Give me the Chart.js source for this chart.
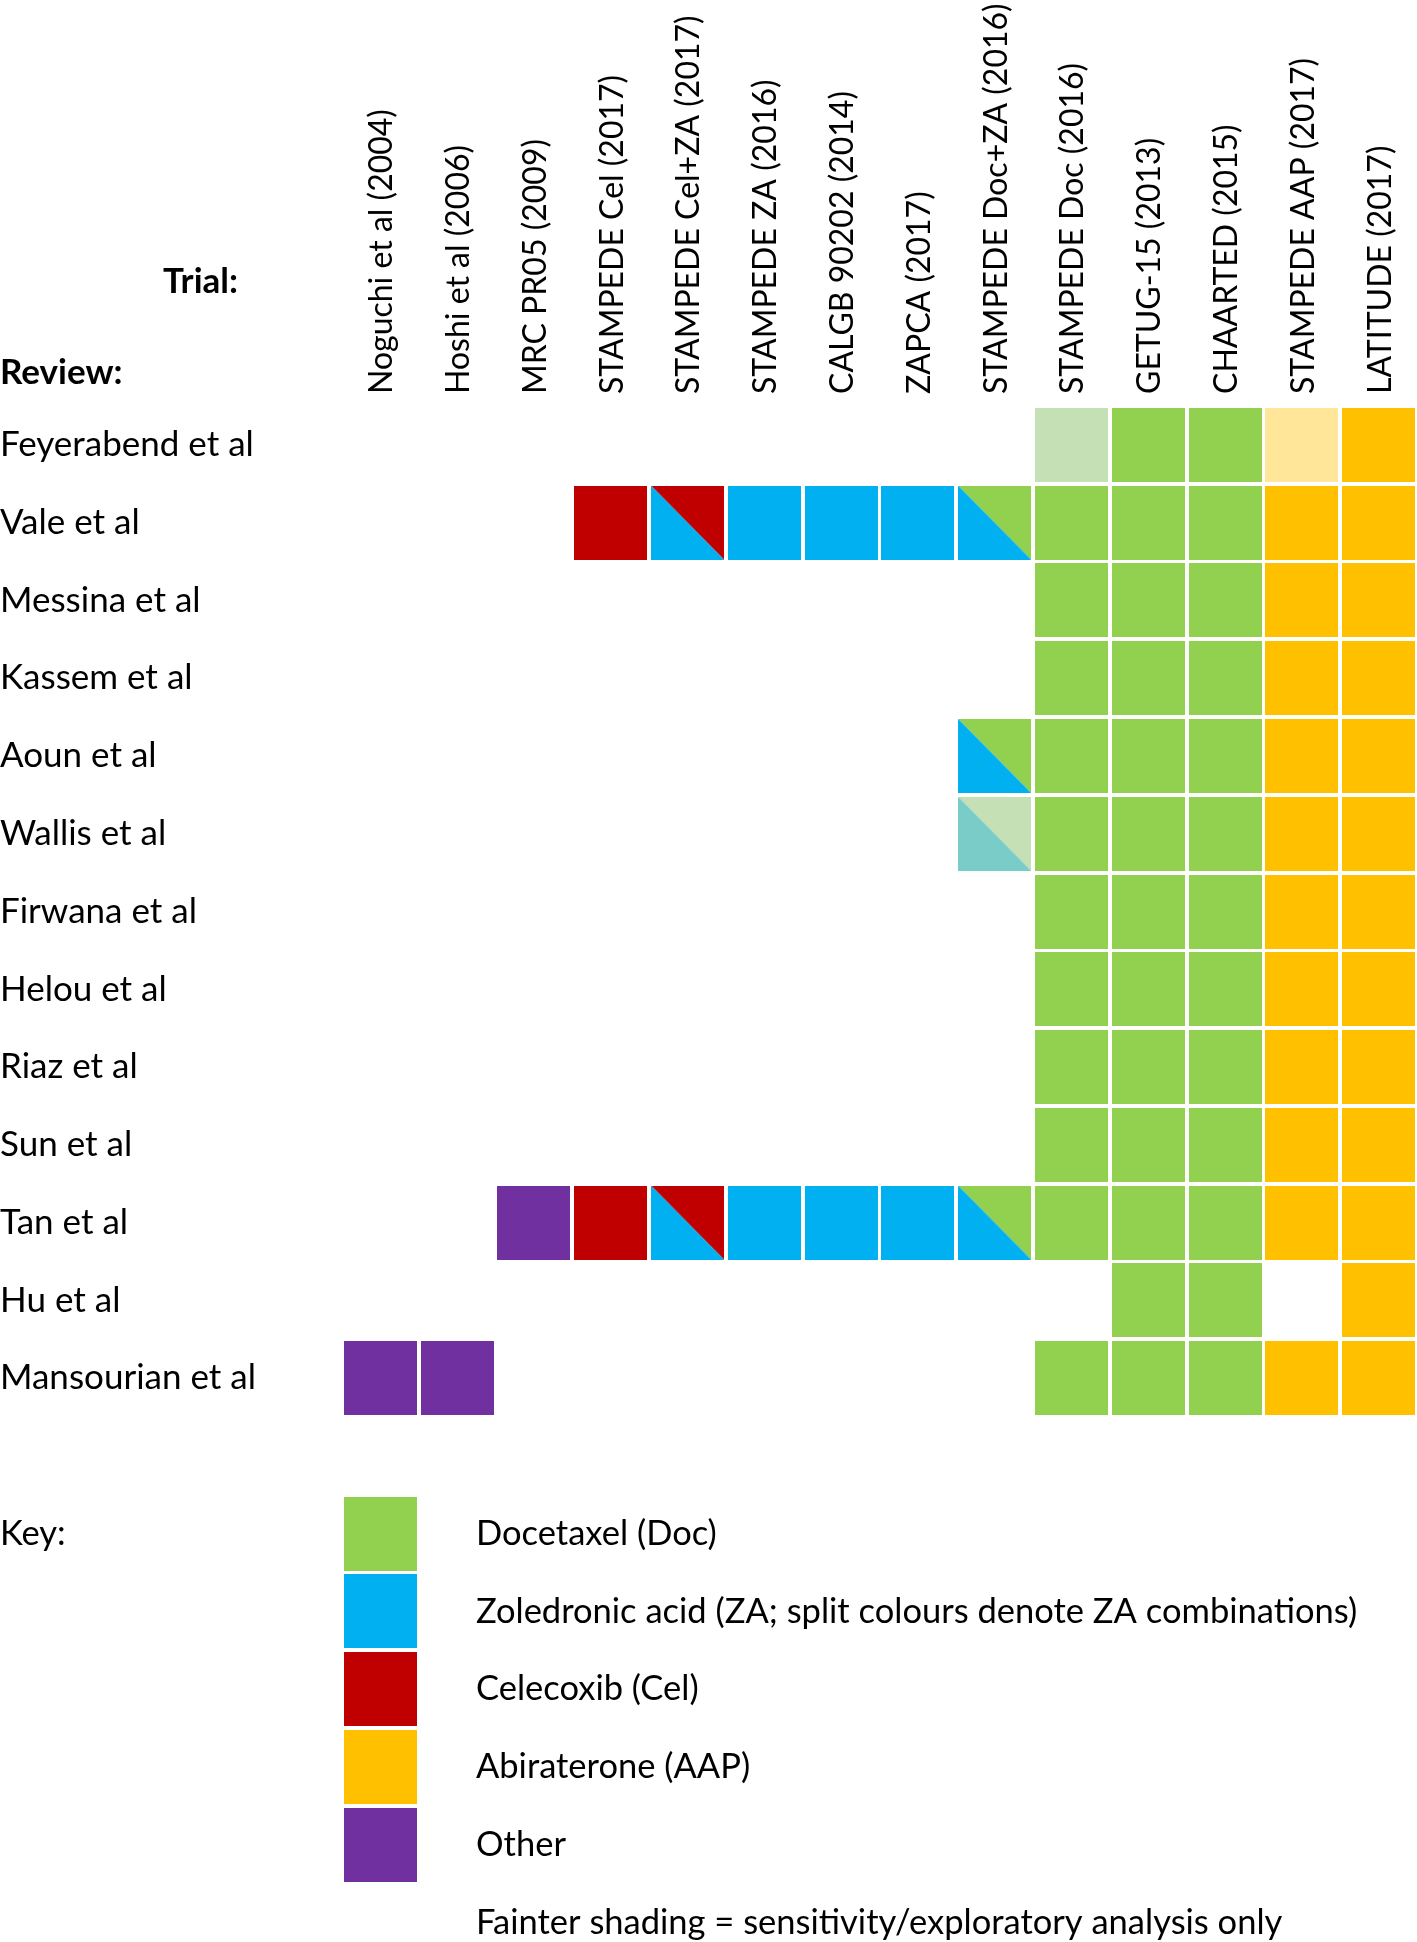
<!DOCTYPE html>
<html>
<head>
<meta charset="utf-8">
<script src="https://cdn.jsdelivr.net/npm/chart.js@4.4.1/dist/chart.umd.min.js"></script>
<style>
  html, body { margin: 0; padding: 0; background: #ffffff; }
  #wrap { width: 1417px; height: 1942px; }
</style>
</head>
<body>
<div id="wrap"><canvas id="myChart" width="1417" height="1942"></canvas></div>
<script>
const trials = [
  "Noguchi et al (2004)",
  "Hoshi et al (2006)",
  "MRC PR05 (2009)",
  "STAMPEDE Cel (2017)",
  "STAMPEDE Cel+ZA (2017)",
  "STAMPEDE ZA (2016)",
  "CALGB 90202 (2014)",
  "ZAPCA (2017)",
  "STAMPEDE Doc+ZA (2016)",
  "STAMPEDE Doc (2016)",
  "GETUG-15 (2013)",
  "CHAARTED (2015)",
  "STAMPEDE AAP (2017)",
  "LATITUDE (2017)",
];

const reviews = [
  "Feyerabend et al",
  "Vale et al",
  "Messina et al",
  "Kassem et al",
  "Aoun et al",
  "Wallis et al",
  "Firwana et al",
  "Helou et al",
  "Riaz et al",
  "Sun et al",
  "Tan et al",
  "Hu et al",
  "Mansourian et al",
];

// D = Doc, Z = ZA, C = Cel, A = AAP, O = other, lower case = fainter shading,
// two letters = split cell (upper-right, lower-left)
const cells = [
  ["", "", "", "", "", "", "", "", "", "d", "D", "D", "a", "A"],
  ["", "", "", "C", "CZ", "Z", "Z", "Z", "DZ", "D", "D", "D", "A", "A"],
  ["", "", "", "", "", "", "", "", "", "D", "D", "D", "A", "A"],
  ["", "", "", "", "", "", "", "", "", "D", "D", "D", "A", "A"],
  ["", "", "", "", "", "", "", "", "DZ", "D", "D", "D", "A", "A"],
  ["", "", "", "", "", "", "", "", "dz", "D", "D", "D", "A", "A"],
  ["", "", "", "", "", "", "", "", "", "D", "D", "D", "A", "A"],
  ["", "", "", "", "", "", "", "", "", "D", "D", "D", "A", "A"],
  ["", "", "", "", "", "", "", "", "", "D", "D", "D", "A", "A"],
  ["", "", "", "", "", "", "", "", "", "D", "D", "D", "A", "A"],
  ["", "", "O", "C", "CZ", "Z", "Z", "Z", "DZ", "D", "D", "D", "A", "A"],
  ["", "", "", "", "", "", "", "", "", "", "D", "D", "", "A"],
  ["O", "O", "", "", "", "", "", "", "", "D", "D", "D", "A", "A"],
];

const keyCodes = ["D", "Z", "C", "A", "O"];
const keyLabels = [
  "Docetaxel (Doc)",
  "Zoledronic acid (ZA; split colours denote ZA combinations)",
  "Celecoxib (Cel)",
  "Abiraterone (AAP)",
  "Other",
];
const faintNote = "Fainter shading = sensitivity/exploratory analysis only";

const colours = {
  D: "#92D050",
  Z: "#00B0F0",
  C: "#C00000",
  A: "#FFC000",
  O: "#7030A0",
  d: "#C5E0B4",
  a: "#FFE699",
  z: "#7ACCC8",
};

const CELL_W = 73;
const CELL_H = 74;
const FONT = "Lato, 'Open Sans', sans-serif";

function makeCell(code) {
  const c = document.createElement("canvas");
  c.width = CELL_W;
  c.height = CELL_H;
  const g = c.getContext("2d");
  if (code.length === 1) {
    g.fillStyle = colours[code];
    g.fillRect(0, 0, CELL_W, CELL_H);
  } else {
    g.fillStyle = colours[code[0]];
    g.beginPath();
    g.moveTo(0, 0);
    g.lineTo(CELL_W, 0);
    g.lineTo(CELL_W, CELL_H);
    g.closePath();
    g.fill();
    g.fillStyle = colours[code[1]];
    g.beginPath();
    g.moveTo(0, 0);
    g.lineTo(0, CELL_H);
    g.lineTo(CELL_W, CELL_H);
    g.closePath();
    g.fill();
  }
  return c;
}

const cellImages = {};
const points = [];
cells.forEach((row, r) => {
  row.forEach((code, t) => {
    if (!code) return;
    if (!cellImages[code]) cellImages[code] = makeCell(code);
    points.push({ x: trials[t], y: reviews[r], code: code });
  });
});
keyCodes.forEach((code) => {
  if (!cellImages[code]) cellImages[code] = makeCell(code);
});

const extraText = {
  id: "extraText",
  afterDraw(chart) {
    const ctx = chart.ctx;
    const xs = chart.scales.x;
    const ys = chart.scales.y;
    ctx.save();
    ctx.fillStyle = "#000000";
    ctx.textBaseline = "middle";

    ctx.font = "bold 35px " + FONT;
    ctx.textAlign = "right";
    ctx.fillText("Trial:", 238, 282);
    ctx.textAlign = "left";
    ctx.fillText("Review:", 0, 373);

    // key sits in the grid rows below the reviews
    const first = reviews.length + 1;
    const x0 = xs.getPixelForValue(0);
    ctx.font = "34.5px " + FONT;
    ctx.fillText("Key:", 0, ys.getPixelForValue(first));
    keyCodes.forEach((code, i) => {
      const yc = ys.getPixelForValue(first + i);
      ctx.drawImage(cellImages[code], x0 - CELL_W / 2, yc - CELL_H / 2);
      ctx.fillText(keyLabels[i], 476, yc);
    });
    ctx.fillText(faintNote, 476, ys.getPixelForValue(first + keyCodes.length));
    ctx.restore();
  },
};

const graph = new Chart(document.getElementById("myChart"), {
  type: "scatter",
  data: {
    datasets: [
      {
        data: points,
        pointStyle: (c) => cellImages[c.raw.code],
        pointRadius: 30,
        pointHoverRadius: 30,
        showLine: false,
      },
    ],
  },
  options: {
    responsive: false,
    animation: false,
    events: [],
    layout: {
      autoPadding: false,
      padding: { top: 0, left: 0, right: 0, bottom: 525 },
    },
    scales: {
      x: {
        type: "category",
        labels: trials,
        position: "top",
        offset: true,
        grid: { display: false, drawTicks: false },
        border: { display: false },
        ticks: {
          autoSkip: false,
          maxRotation: 90,
          minRotation: 90,
          padding: 12,
          labelOffset: 40,
          color: "#000000",
          font: { family: FONT, size: 32 },
        },
        afterFit: (s) => {
          s.height = 406;
          s.paddingLeft = 0;
          s.paddingRight = 0;
        },
      },
      y: {
        type: "category",
        labels: reviews,
        position: "left",
        offset: true,
        grid: { display: false, drawTicks: false },
        border: { display: false },
        ticks: {
          autoSkip: false,
          crossAlign: "far",
          color: "#000000",
          font: { family: FONT, size: 35 },
        },
        afterFit: (s) => {
          s.width = 342;
          s.paddingTop = 0;
          s.paddingBottom = 0;
        },
      },
    },
    plugins: {
      legend: { display: false },
      tooltip: { enabled: false },
    },
  },
  plugins: [extraText],
});
</script>
</body>
</html>
